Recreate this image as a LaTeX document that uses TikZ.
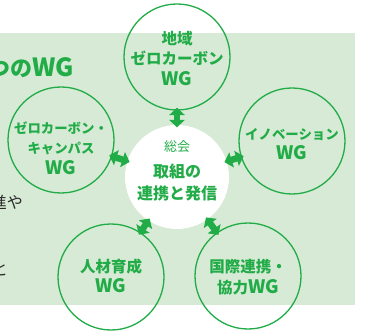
\documentclass[tikz,border=0pt]{standalone}
\usepackage{fontspec}
\newfontfamily\jp{Noto Sans CJK JP}
\usetikzlibrary{arrows.meta}
\definecolor{wgreen}{RGB}{34,172,72}
\definecolor{bggreen}{RGB}{215,234,214}
\definecolor{txtgray}{RGB}{40,40,40}
\newcommand\latn[1]{{\fontsize{18.5}{20}\selectfont #1}}
\tikzset{
  wg/.style={circle, draw=wgreen, line width=1.3pt, minimum size=106pt, inner sep=0pt},
  hub/.style={circle, fill=white, minimum size=104pt, inner sep=0pt},
  lbl/.style={text=wgreen, align=center, inner sep=0pt, font=\jp\bfseries\fontsize{15.5}{20.5}\selectfont},
  lblsmall/.style={text=wgreen, align=center, inner sep=0pt, font=\jp\bfseries\fontsize{13.4}{20.5}\selectfont},
  link/.style={draw=wgreen, line width=6.5pt, {Triangle[width=15.5pt,length=7.5pt]}-{Triangle[width=15.5pt,length=7.5pt]}, shorten <=-3pt, shorten >=-2.5pt},
  bodytxt/.style={text=txtgray, inner sep=0pt, font=\jp\fontsize{16}{18}\selectfont}
}
\begin{document}
\begin{tikzpicture}[x=1pt,y=-1pt]
\useasboundingbox (0,0) rectangle (372,331);
\clip (0,0) rectangle (372,331);
\fill[bggreen] (0,33) rectangle (355,305);
% partial left texts
\node[anchor=base west, text=wgreen, inner sep=0pt, font=\jp\bfseries\fontsize{22}{24}\selectfont] (title) at (-12,77) {つの{\fontsize{25}{26}\selectfont WG}};
\node[bodytxt, anchor=base east] (t1) at (23,209) {進や};
\node[bodytxt, anchor=base east] (t2) at (8,275) {と};
% circles
\node[hub] (hub) at (177,177) {};
\node[wg] (top) at (177,57) {};
\node[wg] (left) at (61,140) {};
\node[wg] (right) at (292,141) {};
\node[wg] (bl) at (111,277) {};
\node[wg] (br) at (248,276) {};
% labels
\node[lbl] (toplbl) at (177,58) {地域\\ゼロカーボン\\\latn{WG}};
\node[lblsmall] (leftlbl) at (61,148) {ゼロカーボン・\\キャンパス\\\latn{WG}};
\node[lblsmall] (rightlbl) at (292,144) {イノベーション\\\latn{WG}};
\node[lbl] (bllbl) at (111,276) {人材育成\\\latn{WG}};
\node[lbl] (brlbl) at (248,277) {国際連携・\\協力\latn{WG}};
\node[text=wgreen, inner sep=0pt, font=\jp\fontsize{13}{15}\selectfont] (sokai) at (177,147) {総会};
\node[lbl, font=\jp\bfseries\fontsize{16}{21.5}\selectfont] (hublbl) at (177,182.5) {取組の\\連携と発信};
% connectors
\draw[link] (top) -- (hub);
\draw[link] (left) -- (hub);
\draw[link] (right) -- (hub);
\draw[link] (bl) -- (hub);
\draw[link] (br) -- (hub);
\end{tikzpicture}
\end{document}
